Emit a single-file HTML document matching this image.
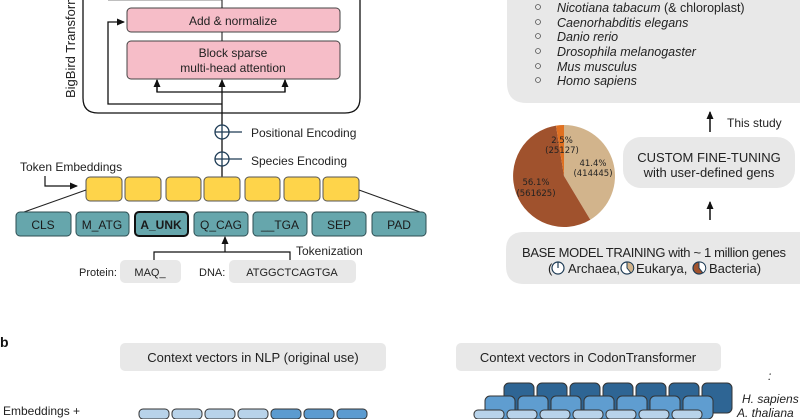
<!DOCTYPE html>
<html><head><meta charset="utf-8"><style>
html,body{margin:0;padding:0;background:#fff;width:800px;height:419px;overflow:hidden;}
svg{display:block;font-family:"Liberation Sans",sans-serif;}
</style></head><body>
<svg width="800" height="419" viewBox="0 0 800 419" xmlns="http://www.w3.org/2000/svg">
<defs>
<marker id="ah" markerWidth="8" markerHeight="8" refX="7" refY="4" orient="auto" markerUnits="userSpaceOnUse"><path d="M0,0.5 L8,4 L0,7.5 z" fill="#111"/></marker>
</defs>
<path d="M83,0 V98 Q83,113 98,113 H345 Q360,113 360,98 V0" fill="none" stroke="#111" stroke-width="1.3"/>
<line x1="108" y1="0" x2="222" y2="0" stroke="#aaa" stroke-width="1.5"/>
<text transform="translate(75,98) rotate(-90)" font-size="13" fill="#222">BigBird Transformer</text>
<rect x="127" y="8" width="213" height="24" rx="4" fill="#f6bdc8" stroke="#444" stroke-width="1"/>
<text x="233" y="25" font-size="12" text-anchor="middle" fill="#222">Add &amp; normalize</text>
<rect x="127" y="41" width="213" height="38" rx="4" fill="#f6bdc8" stroke="#444" stroke-width="1"/>
<text x="233" y="57" font-size="12" text-anchor="middle" fill="#222">Block sparse</text>
<text x="233" y="72" font-size="12" text-anchor="middle" fill="#222">multi-head attention</text>
<line x1="222" y1="0" x2="222" y2="8" stroke="#111"/>
<line x1="222" y1="32" x2="222" y2="41" stroke="#111"/>
<line x1="222" y1="177" x2="222" y2="80" stroke="#111" stroke-width="1.3" marker-end="url(#ah)"/>
<path d="M157,80 V92 H285 V80" fill="none" stroke="#111" stroke-width="1.3"/>
<line x1="157" y1="92" x2="157" y2="80" stroke="#111" stroke-width="1.3" marker-end="url(#ah)"/>
<line x1="285" y1="92" x2="285" y2="80" stroke="#111" stroke-width="1.3" marker-end="url(#ah)"/>
<path d="M222,104 H108 V22 H124" fill="none" stroke="#111" stroke-width="1.3" marker-end="url(#ah)"/>
<circle cx="222" cy="132" r="7" fill="#fff" stroke="#1d3b55" stroke-width="1.3"/>
<line x1="215" y1="132" x2="242" y2="132" stroke="#1d3b55" stroke-width="1.3"/>
<line x1="222" y1="125" x2="222" y2="139" stroke="#1d3b55" stroke-width="1.3"/>
<circle cx="222" cy="159" r="7" fill="#fff" stroke="#1d3b55" stroke-width="1.3"/>
<line x1="215" y1="159" x2="242" y2="159" stroke="#1d3b55" stroke-width="1.3"/>
<line x1="222" y1="152" x2="222" y2="166" stroke="#1d3b55" stroke-width="1.3"/>
<text x="251" y="137" font-size="12" fill="#222">Positional Encoding</text>
<text x="251" y="165" font-size="12" fill="#222">Species Encoding</text>
<text x="20" y="171" font-size="12" fill="#222">Token Embeddings</text>
<path d="M45,176 V186 H77" fill="none" stroke="#111" stroke-width="1.2" marker-end="url(#ah)"/>
<g fill="#fed44a" stroke="#555" stroke-width="1">
<rect x="86" y="177" width="36" height="24" rx="4"/><rect x="125" y="177" width="36" height="24" rx="4"/>
<rect x="166" y="177" width="35" height="24" rx="4"/><rect x="204" y="177" width="36" height="24" rx="4"/>
<rect x="245" y="177" width="35" height="24" rx="4"/><rect x="284" y="177" width="36" height="24" rx="4"/>
<rect x="323" y="177" width="36" height="24" rx="4"/>
</g>
<line x1="86" y1="190" x2="24" y2="212" stroke="#222"/>
<line x1="359" y1="190" x2="420" y2="212" stroke="#222"/>
<g fill="#66a6ac" stroke="#2e4e52" stroke-width="1">
<rect x="16" y="212" width="55" height="24" rx="4"/><rect x="76" y="212" width="53" height="24" rx="4"/>
<rect x="135" y="212" width="53" height="24" rx="4" stroke="#111" stroke-width="2"/><rect x="194" y="212" width="54" height="24" rx="4"/>
<rect x="253" y="212" width="54" height="24" rx="4"/><rect x="312" y="212" width="54" height="24" rx="4"/>
<rect x="372" y="212" width="54" height="24" rx="4"/>
</g>
<g font-size="12" fill="#1a1a1a" text-anchor="middle">
<text x="43" y="229">CLS</text><text x="102" y="229">M_ATG</text>
<text x="161" y="229" font-weight="bold">A_UNK</text><text x="221" y="229">Q_CAG</text>
<text x="280" y="229">__TGA</text><text x="339" y="229">SEP</text><text x="399" y="229">PAD</text>
</g>
<path d="M154,262 V252 H290 V262" fill="none" stroke="#111" stroke-width="1.2"/>
<line x1="225" y1="252" x2="225" y2="237" stroke="#111" stroke-width="1.2" marker-end="url(#ah)"/>
<text x="296" y="255" font-size="12" fill="#222">Tokenization</text>
<text x="79" y="276" font-size="11" fill="#222">Protein:</text>
<rect x="120" y="260" width="61" height="23" rx="5" fill="#e8e8e8"/>
<text x="150" y="276" font-size="11" text-anchor="middle" fill="#222">MAQ_</text>
<text x="199" y="276" font-size="11" fill="#222">DNA:</text>
<rect x="229" y="260" width="127" height="23" rx="5" fill="#e8e8e8"/>
<text x="292" y="276" font-size="11" text-anchor="middle" fill="#222">ATGGCTCAGTGA</text>
<path d="M507,0 H800 V103 H527 Q507,103 507,83 Z" fill="#e8e8e8"/>
<g font-size="12.5" fill="#222">
<g fill="none" stroke="#555" stroke-width="0.8">
<circle cx="538" cy="7" r="2.5"/><circle cx="538" cy="22" r="2.5"/><circle cx="538" cy="36" r="2.5"/>
<circle cx="538" cy="51" r="2.5"/><circle cx="538" cy="66" r="2.5"/><circle cx="538" cy="80" r="2.5"/>
</g>
<text x="557" y="12"><tspan font-style="italic">Nicotiana tabacum</tspan> (&amp; chloroplast)</text>
<text x="557" y="27" font-style="italic">Caenorhabditis elegans</text>
<text x="557" y="41" font-style="italic">Danio rerio</text>
<text x="557" y="56" font-style="italic">Drosophila melanogaster</text>
<text x="557" y="71" font-style="italic">Mus musculus</text>
<text x="557" y="85" font-style="italic">Homo sapiens</text>
</g>
<line x1="710" y1="132" x2="710" y2="112" stroke="#111" stroke-width="1.5" marker-end="url(#ah)"/>
<text x="727" y="127" font-size="12" fill="#222">This study</text>
<rect x="623" y="137" width="172" height="51" rx="18" fill="#e8e8e8"/>
<text x="709" y="162" font-size="13" text-anchor="middle" fill="#222">CUSTOM FINE-TUNING</text>
<text x="709" y="177" font-size="13" text-anchor="middle" fill="#222">with user-defined gens</text>
<line x1="710" y1="220" x2="710" y2="202" stroke="#111" stroke-width="1.5" marker-end="url(#ah)"/>
<path d="M524,232 H800 V284 H524 Q506,284 506,266 V250 Q506,232 524,232 Z" fill="#e8e8e8"/>
<text x="522" y="257" font-size="13" textLength="264" fill="#222">BASE MODEL TRAINING with ~ 1 million genes</text>
<text x="548" y="273" font-size="13" fill="#222">(</text>
<circle cx="558" cy="268" r="6" fill="#fff" stroke="#1d3b55" stroke-width="1.2"/><line x1="558" y1="262" x2="558" y2="268" stroke="#1d3b55" stroke-width="1.2"/>
<text x="568" y="273" font-size="13" fill="#222">Archaea,</text>
<circle cx="627" cy="268" r="6" fill="#fff" stroke="#1d3b55" stroke-width="1.2"/><path d="M627,268 V262 A6,6 0 0 1 631,273 z" fill="#d2b48c" stroke="#1d3b55"/>
<text x="636" y="273" font-size="13" fill="#222">Eukarya,</text>
<circle cx="699" cy="268" r="6" fill="#a0522d" stroke="#1d3b55" stroke-width="1.2"/><path d="M699,268 V262 A6,6 0 0 1 703,273 z" fill="#fff" stroke="#1d3b55"/>
<text x="709" y="273" font-size="13" fill="#222">Bacteria)</text>
<path d="M564,176 L564,125 A51,51 0 0 1 590.3,219.7 z" fill="#d2b48c"/>
<path d="M564,176 L590.3,219.7 A51,51 0 1 1 556,125.6 z" fill="#a0522d"/>
<path d="M564,176 L556,125.6 A51,51 0 0 1 564,125 z" fill="#e07020"/>
<g font-family="DejaVu Sans,sans-serif" font-size="8.5" fill="#222" text-anchor="middle">
<text x="562" y="143">2.5%</text><text x="562" y="153">(25127)</text>
<text x="593" y="166">41.4%</text><text x="593" y="176">(414445)</text>
<text x="536" y="185">56.1%</text><text x="536" y="196">(561625)</text>
</g>
<text x="0" y="347" font-size="14" font-weight="bold" fill="#111">b</text>
<rect x="120" y="343" width="266" height="28" rx="5" fill="#e8e8e8"/>
<text x="253" y="362" font-size="13" text-anchor="middle" fill="#222">Context vectors in NLP (original use)</text>
<rect x="456" y="343" width="265" height="28" rx="5" fill="#e8e8e8"/>
<text x="588" y="362" font-size="13" text-anchor="middle" fill="#222">Context vectors in CodonTransformer</text>
<text x="3" y="415" font-size="12" fill="#222">Embeddings +</text>
<g stroke="#333" stroke-width="1">
<rect x="139" y="409" width="30" height="10" rx="4" fill="#b8d3ea"/><rect x="172" y="409" width="30" height="10" rx="4" fill="#b8d3ea"/>
<rect x="205" y="409" width="30" height="10" rx="4" fill="#b8d3ea"/><rect x="238" y="409" width="30" height="10" rx="4" fill="#b8d3ea"/>
<rect x="271" y="409" width="30" height="10" rx="4" fill="#5b9bd0"/><rect x="304" y="409" width="30" height="10" rx="4" fill="#5b9bd0"/>
<rect x="337" y="409" width="30" height="10" rx="4" fill="#5b9bd0"/>
</g>
<g stroke="#333" stroke-width="1">
<g fill="#2e6594">
<rect x="504" y="383" width="30" height="30" rx="5"/><rect x="537" y="383" width="30" height="30" rx="5"/><rect x="570" y="383" width="30" height="30" rx="5"/><rect x="603" y="383" width="30" height="30" rx="5"/><rect x="636" y="383" width="30" height="30" rx="5"/><rect x="669" y="383" width="30" height="30" rx="5"/><rect x="702" y="383" width="30" height="30" rx="5"/>
</g>
<g fill="#5f9dd0">
<rect x="485" y="396" width="30" height="23" rx="5"/><rect x="518" y="396" width="30" height="23" rx="5"/><rect x="551" y="396" width="30" height="23" rx="5"/><rect x="584" y="396" width="30" height="23" rx="5"/><rect x="617" y="396" width="30" height="23" rx="5"/><rect x="650" y="396" width="30" height="23" rx="5"/><rect x="683" y="396" width="30" height="23" rx="5"/>
</g>
<g fill="#b8d3ea">
<rect x="474" y="410" width="30" height="9" rx="4"/><rect x="507" y="410" width="30" height="9" rx="4"/><rect x="540" y="410" width="30" height="9" rx="4"/><rect x="573" y="410" width="30" height="9" rx="4"/><rect x="606" y="410" width="30" height="9" rx="4"/><rect x="639" y="410" width="30" height="9" rx="4"/><rect x="672" y="410" width="30" height="9" rx="4"/>
</g>
</g>
<text x="768" y="380" font-size="12" font-style="italic" fill="#222">:</text>
<text x="742" y="403" font-size="12" font-style="italic" fill="#222">H. sapiens</text>
<text x="737" y="417" font-size="12" font-style="italic" fill="#222">A. thaliana</text>
</svg>
</body></html>
